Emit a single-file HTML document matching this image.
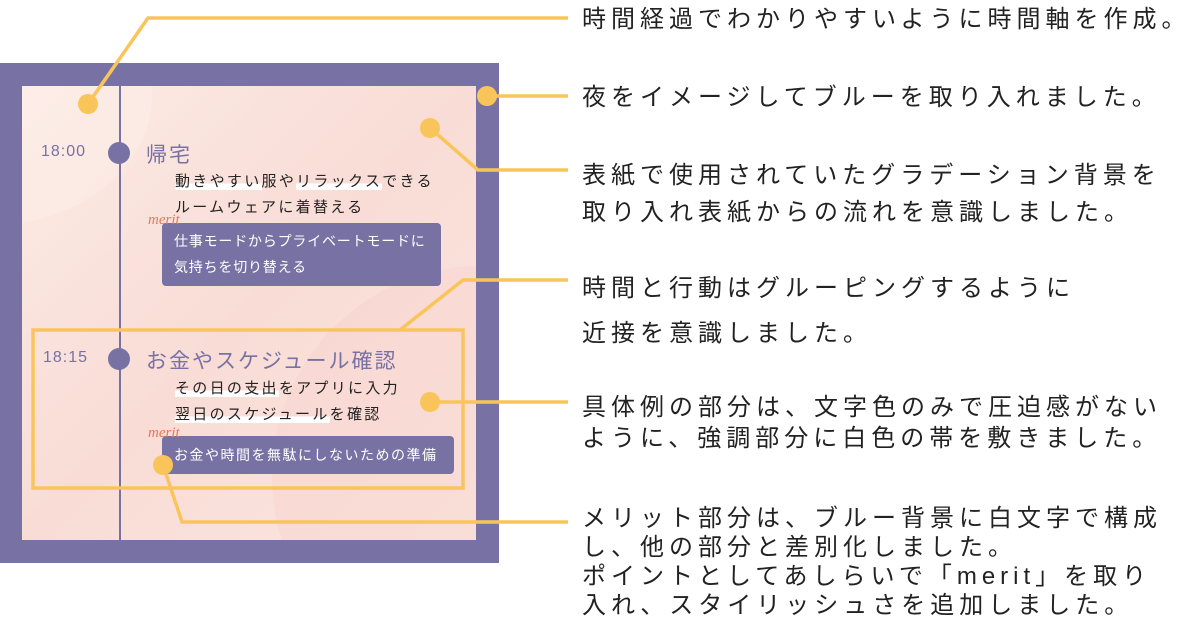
<!DOCTYPE html>
<html><head><meta charset="utf-8"><style>
html,body{margin:0;width:1200px;height:644px;overflow:hidden}
body{background:#fff;position:relative;font-family:"Liberation Sans","Noto Sans CJK JP",sans-serif}
.a{position:absolute;white-space:nowrap}
.r{font-size:24px;letter-spacing:5px;color:#222;line-height:29px}
.frame{position:absolute;left:0;top:63px;width:499px;height:500px;background:#7872a4}
.panel{position:absolute;left:22px;top:86px;width:454px;height:454px;background:linear-gradient(135deg,#fcebe5,#f9dcd6 50%,#fbe6e0);overflow:hidden}
.hl{background:linear-gradient(transparent 62%,#fff 62%)}
.box{position:absolute;background:#7872a4;border-radius:4px;color:#fff;font-size:14px;line-height:26px;padding:5px 12px;white-space:nowrap;box-sizing:border-box}
.mer{position:absolute;color:#e8775a;font-style:italic;font-family:"Liberation Serif",serif;font-size:15px}
</style></head><body>
<div class="frame"></div>
<div class="panel">
<div style="position:absolute;left:250px;top:180px;width:420px;height:420px;border-radius:50%;background:rgba(247,205,200,.35)"></div>
<div style="position:absolute;left:-200px;top:-120px;width:330px;height:260px;border-radius:50%;background:rgba(255,240,235,.4)"></div>
</div>
<div class="a" style="left:119px;top:86px;width:2px;height:454px;background:#7872a4"></div>
<div class="a" style="left:108px;top:142px;width:22px;height:22px;border-radius:50%;background:#7872a4"></div>
<div class="a" style="left:108px;top:348px;width:22px;height:22px;border-radius:50%;background:#7872a4"></div>
<div class="a" style="left:41px;top:143px;font-size:16px;color:#7872a4;letter-spacing:1px">18:00</div>
<div class="a" style="left:43px;top:349px;font-size:16px;color:#7872a4;letter-spacing:1px">18:15</div>
<div class="a" style="left:146px;top:139px;font-size:21px;color:#7872a4;letter-spacing:2px">帰宅</div>
<div class="a" style="left:146px;top:345px;font-size:21px;color:#7872a4;letter-spacing:2px">お金やスケジュール確認</div>
<div class="a" style="left:175px;top:169px;font-size:15px;color:#222;letter-spacing:2.3px;line-height:26px"><span class="hl">動きやすい</span>服や<span class="hl">リラックス</span>できる<br>ルームウェアに着替える</div>
<div class="a" style="left:175px;top:376px;font-size:15px;color:#222;letter-spacing:2.3px;line-height:26px"><span class="hl">その日の支出</span>をアプリに入力<br><span class="hl">翌日のスケジュール</span>を確認</div>
<div class="box" style="left:162px;top:223px;width:279px;height:63px;letter-spacing:0.8px">仕事モードからプライベートモードに<br>気持ちを切り替える</div>
<div class="box" style="left:162px;top:436px;width:292px;height:38px;line-height:28px;letter-spacing:1.5px">お金や時間を無駄にしないための準備</div>
<div class="mer" style="left:148px;top:212px">merit</div>
<div class="mer" style="left:148px;top:425px">merit</div>
<svg class="a" style="left:0;top:0" width="1200" height="644">
<g stroke="#f9c55a" stroke-width="3.5" fill="none">
<polyline points="88,104 148,18 568,18"/>
<line x1="487" y1="96" x2="568" y2="96"/>
<polyline points="430,128 478,170 568,170"/>
<rect x="33" y="330" width="430" height="158"/>
<polyline points="400,330 463,280 568,280"/>
<line x1="430" y1="402" x2="568" y2="402"/>
<polyline points="163,465 182,522 568,522"/>
</g>
<g fill="#f9c55a">
<circle cx="88" cy="104" r="10"/><circle cx="487" cy="96" r="10"/><circle cx="430" cy="128" r="10"/><circle cx="430" cy="402" r="10"/><circle cx="163" cy="465" r="10"/>
</g>
</svg>
<div class="a r" style="left:582px;top:5px">時間経過でわかりやすいように時間軸を作成。</div>
<div class="a r" style="left:582px;top:83px">夜をイメージしてブルーを取り入れました。</div>
<div class="a r" style="left:582px;top:157px;line-height:37px">表紙で使用されていたグラデーション背景を<br>取り入れ表紙からの流れを意識しました。</div>
<div class="a r" style="left:582px;top:266px;line-height:45px">時間と行動はグルーピングするように<br>近接を意識しました。</div>
<div class="a r" style="left:582px;top:392px;line-height:31px">具体例の部分は、文字色のみで圧迫感がない<br>ように、強調部分に白色の帯を敷きました。</div>
<div class="a r" style="left:582px;top:504px;line-height:29px">メリット部分は、ブルー背景に白文字で構成<br>し、他の部分と差別化しました。<br>ポイントとしてあしらいで「merit」を取り<br>入れ、スタイリッシュさを追加しました。</div>
</body></html>
